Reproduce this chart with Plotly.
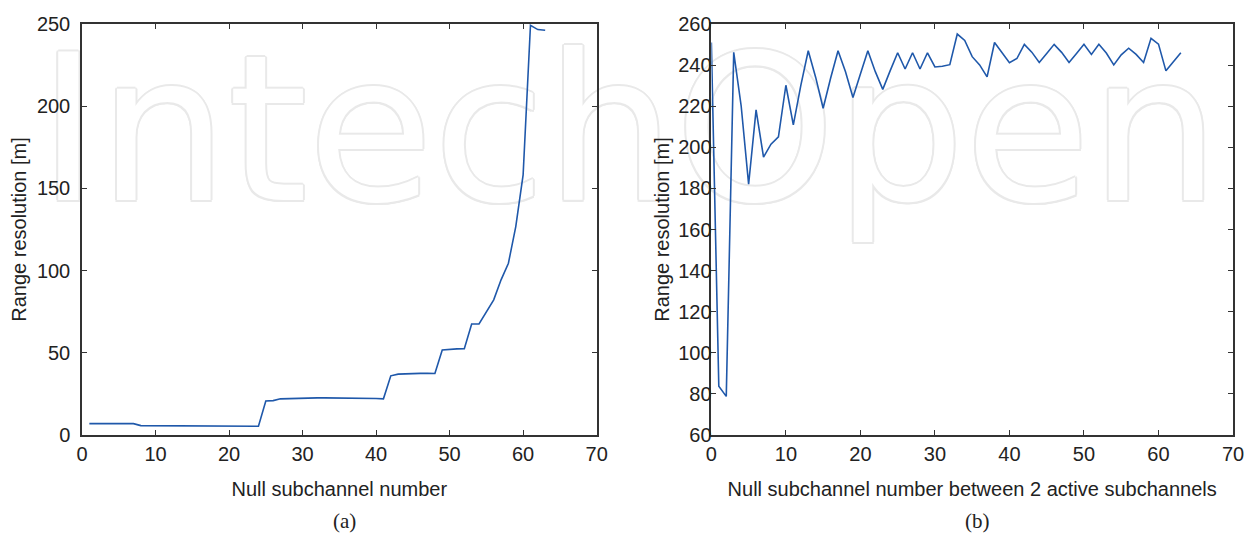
import plotly.graph_objects as go

# ---------------- data ----------------
x_a = list(range(1, 64))
res_a = [6.9, 6.9, 6.9, 6.9, 6.9, 6.9, 6.9,
         5.7, 5.7, 5.6, 5.6, 5.6, 5.5, 5.5, 5.5, 5.4, 5.4, 5.4, 5.4,
         5.3, 5.3, 5.3, 5.3, 5.3,
         20.7, 20.9, 22.0, 22.2, 22.4, 22.5, 22.6, 22.6, 22.6, 22.6, 22.6, 22.6,
         22.5, 22.4, 22.3, 22.2, 22.0,
         36.0, 37.0, 37.3, 37.4, 37.5, 37.5, 37.4,
         51.7, 52.2, 52.4, 52.5,
         67.5, 67.6, 74.8, 82.2, 94.4, 104.5, 126.8, 158.2,
         249.2, 246.6, 246.2]

x_b = list(range(0, 64))
res_b = [251.0, 83.7, 78.8, 246.2, 220.1, 182.0, 218.2, 195.2, 201.5, 205.1,
         230.2, 210.9, 230.0, 247.0, 234.0, 219.0, 233.6, 247.0, 236.8, 224.2,
         235.7, 247.0, 236.8, 228.2, 237.3, 246.0, 238.1, 246.0, 238.1, 246.0,
         239.1, 239.4, 240.2, 255.1, 252.0, 244.1, 240.1, 234.3, 251.0, 246.0,
         241.2, 243.2, 250.1, 246.3, 241.3, 245.7, 250.1, 246.2, 241.3, 245.7,
         250.1, 245.2, 250.1, 245.9, 240.1, 245.0, 248.2, 245.2, 241.3, 253.0,
         250.2, 237.2, 241.4, 246.0]

xticks_a = [0, 10, 20, 30, 40, 50, 60, 70]
yticks_a = [0, 50, 100, 150, 200, 250]
xticks_b = [0, 10, 20, 30, 40, 50, 60, 70]
yticks_b = [60, 80, 100, 120, 140, 160, 180, 200, 220, 240, 260]

xtitle_a = "Null subchannel number"
xtitle_b = "Null subchannel number between 2 active subchannels"
ytitle = "Range resolution [m]"
panel_labels = ["(a)", "(b)"]
watermark = "IntechOpen"

# ---------------- figure ----------------
W, H = 1255, 536
OFF = 8  # page body margin of the html page
LINE = "#1f58aa"
FRAME = "#333333"
TXT = "#222222"
SANS = "Liberation Sans, Arial, sans-serif"
SERIF = "Liberation Serif, Times New Roman, serif"

# plot-area pixel box (screen pixels)
L, R, T, B = 81.7, 1233.5, 24.0, 435.5
PW, PH = R - L, B - T

def paper_x(p):
    return (p - L) / PW

def paper_y(p):
    return (B - p) / PH

fig = go.Figure()
fig.add_trace(go.Scatter(x=x_a, y=res_a, mode="lines",
                         line=dict(color=LINE, width=1.6),
                         xaxis="x", yaxis="y", showlegend=False))
fig.add_trace(go.Scatter(x=x_b, y=res_b, mode="lines",
                         line=dict(color=LINE, width=1.6),
                         xaxis="x2", yaxis="y2", showlegend=False))

axis_common = dict(showline=True, linecolor=FRAME, linewidth=1.5, mirror="ticks",
                   ticks="inside", ticklen=5, tickwidth=1, tickcolor=FRAME,
                   showgrid=False, zeroline=False, automargin=False,
                   tickfont=dict(family=SANS, size=20, color=TXT))
tfont = dict(family=SANS, size=20, color=TXT)

fig.update_layout(
    width=W, height=H,
    margin=dict(l=L - OFF, r=W - (R - OFF), t=T - OFF, b=H - (B - OFF), autoexpand=False),
    paper_bgcolor="white", plot_bgcolor="rgba(0,0,0,0)",
    showlegend=False,
    xaxis=dict(domain=[0, paper_x(596.7)], range=[0, 70],
               tickvals=xticks_a, anchor="y",
               title=dict(text=xtitle_a, font=tfont, standoff=18),
               ticklabelstandoff=0, **axis_common),
    yaxis=dict(domain=[0, 1], range=[0, 250],
               tickvals=yticks_a, anchor="x",
               title=dict(text=ytitle, font=tfont, standoff=10),
               ticklabelstandoff=6, **axis_common),
    xaxis2=dict(domain=[paper_x(711.5), 1], range=[0, 70],
                tickvals=xticks_b, anchor="y2",
                title=dict(text=xtitle_b, font=tfont, standoff=18),
                ticklabelstandoff=0, **axis_common),
    yaxis2=dict(domain=[0, 1], range=[60, 260],
                tickvals=yticks_b, anchor="x2",
                title=dict(text=ytitle, font=tfont, standoff=3),
                ticklabelstandoff=-6, **axis_common),
)

# panel labels
for lab, cx in zip(panel_labels, [344, 978]):
    fig.add_annotation(text=lab, xref="paper", yref="paper",
                       x=paper_x(cx), y=paper_y(522), xanchor="center", yanchor="middle",
                       showarrow=False, font=dict(family=SERIF, size=21, color=TXT))

# faint outlined watermark, drawn below the traces
oc = "#e9e9e9"
shadow = ", ".join(f"{dx}px {dy}px 0 {oc}" for dx, dy in
                   [(2, 0), (-2, 0), (0, 2), (0, -2), (1.4, 1.4), (-1.4, -1.4), (1.4, -1.4), (-1.4, 1.4)])
fig.add_shape(type="rect", xref="paper", yref="paper",
              x0=paper_x(62), x1=paper_x(1196), y0=paper_y(170), y1=paper_y(60),
              line=dict(width=0), fillcolor="rgba(0,0,0,0)", layer="below",
              label=dict(text=watermark, textposition="middle center",
                         font=dict(family="DejaVu Sans", size=204, color="white", shadow=shadow)))

fig.write_html("out.html")
